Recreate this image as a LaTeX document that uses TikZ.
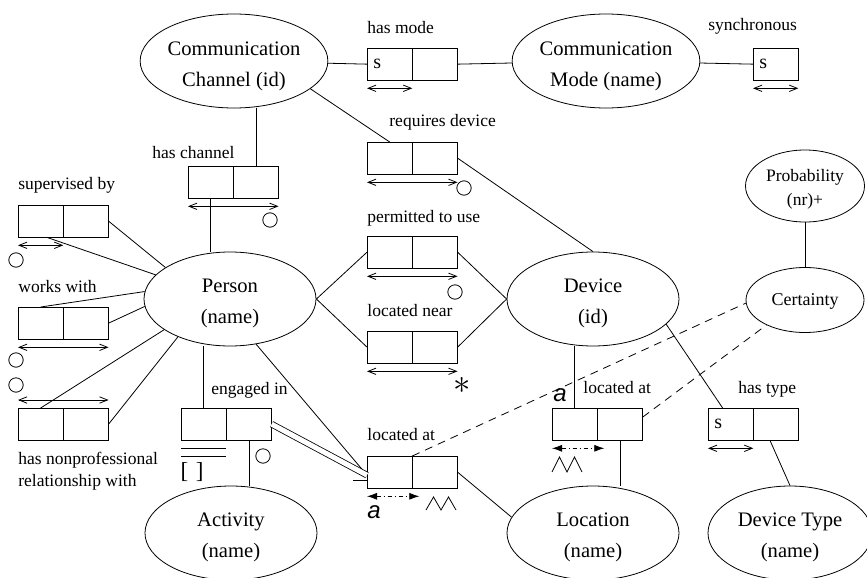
\documentclass[tikz,border=0pt]{standalone}
\usepackage{fontspec}
\setmainfont{Liberation Serif}
\newfontfamily\helvfont{Liberation Sans}
\usetikzlibrary{shapes.geometric,arrows.meta,positioning}

\newcommand\entlift[1][11pt]{\rule{0pt}{#1}}
\tikzset{
  ent/.style={ellipse,draw,inner sep=0pt,minimum width=86pt,minimum height=47pt,
    align=center,font=\fontsize{10.3}{15.5}\selectfont},
  cell/.style={draw,inner sep=0pt,minimum width=22.25pt,minimum height=15.75pt},
  rolelab/.style={anchor=base west,inner sep=0pt,font=\fontsize{8.75}{12}\selectfont},
  uniq/.style={{Straight Barb[length=4pt,width=3.2pt]}-{Straight Barb[length=4pt,width=3.2pt]}},
  freq/.style={{Latex[length=5pt,width=3.5pt]}-{Latex[length=5pt,width=3.5pt]},
    dash pattern=on 2pt off 1.5pt on .5pt off 1.5pt},
  sub/.style={dash pattern=on 4pt off 3pt}
}

\begin{document}
\begin{tikzpicture}[x=0.5pt,y=-0.5pt]
\useasboundingbox (0,0) rectangle (867,578);

% Entity types; centres are given in pixel units of the page.
\node[ent] (chan) at (234,61) {\entlift[12pt]Communication\\Channel (id)};
\node[ent] (mode) at (606,61) {\entlift[12pt]Communication\\Mode (name)};
\node[ent] (person) at (230,299) {\entlift Person\\(name)};
\node[ent] (dev) at (593,299) {\entlift Device\\(id)};
\node[ent] (act) at (231,533) {\entlift Activity\\(name)};
\node[ent] (loc) at (593,533) {\entlift Location\\(name)};
\node[ent,minimum width=82pt] (dtype) at (790,533) {\entlift Device Type\\(name)};
\node[ent,minimum width=59.5pt,minimum height=36pt,font=\fontsize{8.75}{12}\selectfont]
  (prob) at (805,186) {\entlift[9.5pt]Probability\\(nr)+};
\node[ent,minimum width=59pt,minimum height=32.5pt,font=\fontsize{9}{12}\selectfont]
  (cert) at (805,300) {\entlift[7.5pt]Certainty};

% Fact types: two role cells each, placed by their top left corner.
\foreach \n/\x/\y in {hmode/367/48,rqdev/367/142,hchan/188/166,sup/18/205,
    perm/367/236,works/18/307,near/367/331,nonprof/18/408,eng/181/408,
    ladev/552/408,htype/708/408,laper/367/456} {
  \node[cell,anchor=north west] (\n-l) at (\x,\y) {};
  \node[cell,anchor=west] (\n-r) at (\n-l.east) {};
}
\node[cell,anchor=north west] (sync) at (753,48) {};
\foreach \n in {hmode-l,htype-l,sync}
  \node[anchor=west,inner sep=0pt,font=\fontsize{10}{12}\selectfont] (\n-s)
    at ([xshift=3pt]\n.west) {s};

% Fact type readings.
\foreach \x/\y/\t [count=\i] in {367/33/has mode,708/31/synchronous,
    389/126/requires device,152/158/has channel,18/189/supervised by,
    367/222/permitted to use,18/292/works with,367/316/located near,
    211/394/engaged in,367/440/located at,583/393/located at,738/393/has type,
    18/464/has nonprofessional,18/486/relationship with}
  \node[rolelab] (lab\i) at (\x,\y) {\t};

% Uniqueness constraints: under one role or spanning both.
\foreach \a/\b in {hmode-l.south west/hmode-l.south east,
    sync.south west/sync.south east,rqdev-l.south west/rqdev-r.south east,
    hchan-l.south west/hchan-r.south east,sup-l.south west/sup-l.south east,
    perm-l.south west/perm-r.south east,works-l.south west/works-r.south east,
    near-l.south west/near-r.south east,htype-l.south west/htype-l.south east}
  \draw[uniq] ([yshift=-4pt]\a) -- ([yshift=-4pt]\b);
\draw[uniq] ([yshift=4pt]nonprof-l.north west) -- ([yshift=4pt]nonprof-r.north east);
\draw[freq] ([yshift=-4pt]laper-l.south west) -- ([xshift=3.5pt,yshift=-4pt]laper-l.south east);
\draw[freq] ([yshift=-4pt]ladev-l.south west) -- ([xshift=3.5pt,yshift=-4pt]ladev-l.south east);

% Ring marks and other role annotations.
\foreach \x/\y in {464/188,270/220,16/260,16/360,16/385,455/292,263/456}
  \draw (\x,\y) circle[radius=3.6pt];
\node[inner sep=0pt,font=\fontsize{18}{18}\selectfont] (star) at (462,385) {$\ast$};
\draw ([yshift=-4pt]eng-l.south west) -- ([yshift=-4pt]eng-l.south east)
      ([yshift=-8pt]eng-l.south west) -- ([yshift=-8pt]eng-l.south east);
\node[inner sep=0pt,font=\fontsize{11.5}{12}\selectfont] (brk) at (192,472) {[\,\,]};
\draw (426,510) -- ++(7.5,-13) -- ++(7.5,13) -- ++(7.5,-13) -- ++(7.5,13);
\draw (552,472) -- ++(7.5,-15) -- ++(7.5,15) -- ++(7.5,-15) -- ++(7.5,15);
\node[anchor=base west,inner sep=0pt,font=\helvfont\itshape\fontsize{12}{12}\selectfont]
  (ap) at (367,518) {a};
\node[anchor=base west,inner sep=0pt,font=\helvfont\itshape\fontsize{12}{12}\selectfont]
  (ad) at (553,401) {a};

% Connectors between entity types and roles.
\draw (chan) -- (hmode-l.west);
\draw (hmode-r.east) -- (mode);
\draw (mode) -- (sync.west);
\draw (chan.-20) -- (rqdev-l.north);
\draw (rqdev-r.east) -- (dev.north);
\draw (hchan-r.north) -- (hchan-r.north |- chan.south);
\draw (hchan-l.south) -- (hchan-l.south |- person.north);
\draw (sup-r.east) -- (person.154);
\draw ([xshift=3pt]sup-l.south) -- (person.162);
\draw (works-l.north) -- (person.175);
\draw (works-r.east) -- (person.185);
\draw (nonprof-l.north) -- (person.205);
\draw (nonprof-r.east) -- (person.216);
\draw (person.east) -- (perm-l.west);
\draw (person.east) -- (near-l.west);
\draw (dev.west) -- (perm-r.east);
\draw (dev.west) -- (near-r.east);
\draw (eng-l.north) -- (eng-l.north |- person.south);
\draw (eng-r.south) -- (eng-r.south |- act.north);

% Subset from engaged in onto located at.
\coordinate (tip) at ([yshift=-1.5pt]laper-l.west);
\draw (person.-60) -- (tip);
\draw[double,double distance=2.5pt] (eng-r.east) -- (tip);
\draw ([xshift=-7pt,yshift=-4pt]laper-l.west) -- ([yshift=-4pt]laper-l.west);

\draw (laper-r.east) -- (loc.169);
\draw[sub] (laper-l.north east) -- (cert.183);
\draw[sub] ([yshift=3.5pt]ladev-r.east) -- (cert.213);
\draw (ladev-l.north) -- (ladev-l.north |- dev.south);
\draw (ladev-r.south) -- (ladev-r.south |- loc.north);
\draw (dev.-19) -- ([xshift=-4pt]htype-l.north);
\draw ([xshift=-3pt]htype-r.south) -- (dtype.north);
\draw (prob) -- (cert);
\end{tikzpicture}
\end{document}
